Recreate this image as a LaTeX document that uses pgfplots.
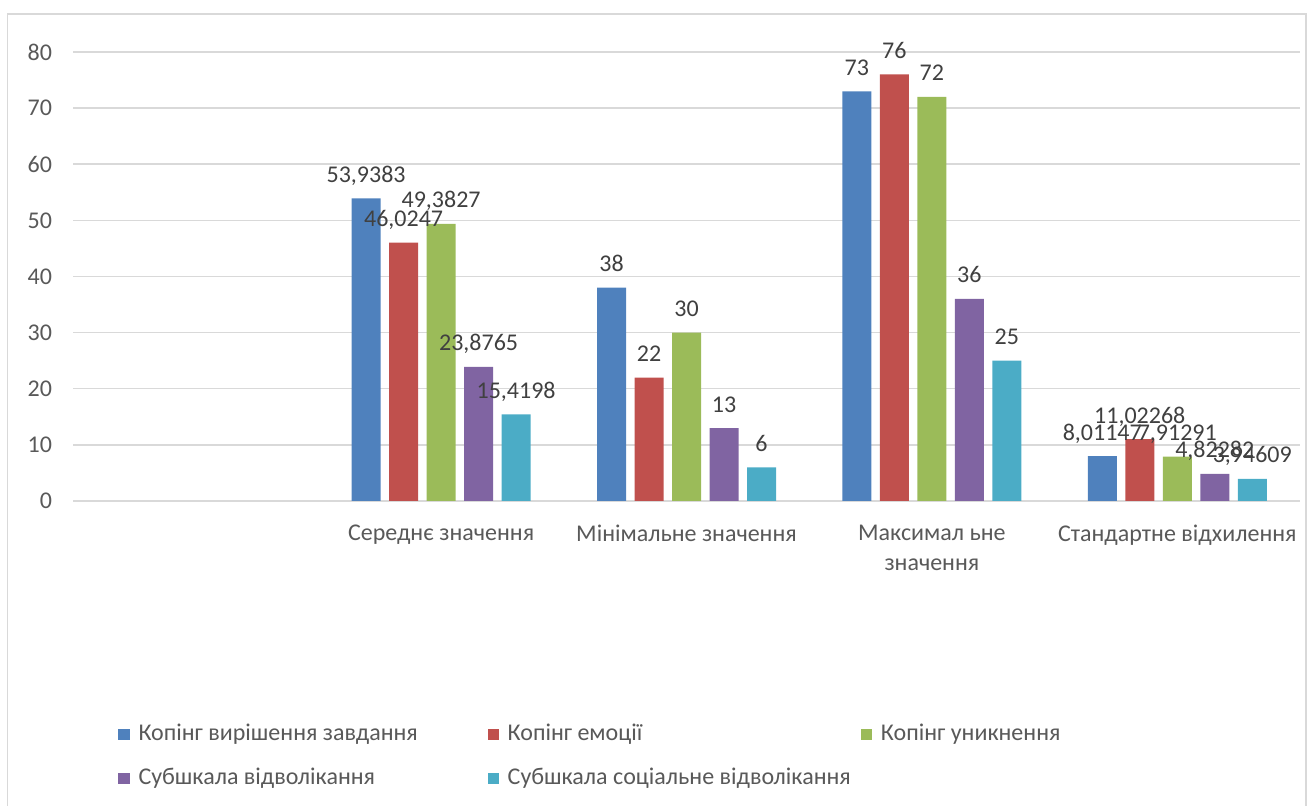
\documentclass[border=0pt]{standalone}
\usepackage{pgfplots}
\pgfplotsset{compat=1.18}
\usepackage{pgfplotstable}
\usepackage{fontspec}
\setmainfont{Carlito}
\definecolor{cA}{HTML}{4F81BD}
\definecolor{cB}{HTML}{C0504D}
\definecolor{cC}{HTML}{9BBB59}
\definecolor{cD}{HTML}{8064A2}
\definecolor{cE}{HTML}{4BACC6}
\definecolor{gridc}{HTML}{D9D9D9}
\definecolor{tickc}{HTML}{595959}
\definecolor{labc}{HTML}{404040}

\pgfplotstableread{
x y lbl
1 53.9383 53,9383
2 38 38
3 73 73
4 8.01147 8,01147
}\tA
\pgfplotstableread{
x y lbl
1 46.0247 46,0247
2 22 22
3 76 76
4 11.02268 11,02268
}\tB
\pgfplotstableread{
x y lbl
1 49.3827 49,3827
2 30 30
3 72 72
4 7.91291 7,91291
}\tC
\pgfplotstableread{
x y lbl
1 23.8765 23,8765
2 13 13
3 36 36
4 4.82282 4,82282
}\tD
\pgfplotstableread{
x y lbl
1 15.4198 15,4198
2 6 6
3 25 25
4 3.94609 3,94609
}\tE

\begin{document}
\begin{tikzpicture}
\useasboundingbox (0,0) rectangle (655.5pt,403pt);
\draw[gridc, line width=0.75pt] (3.75pt,-5pt) rectangle (653pt,396pt);
\begin{axis}[
  at={(36.5pt,152.5pt)}, anchor=south west,
  scale only axis, width=613.5pt, height=224.5pt,
  xmin=-0.5, xmax=4.5, ymin=0, ymax=80,
  ytick={0,10,...,80},
  xtick={1,2,3,4},
  xticklabels={Середнє значення, Мінімальне значення, {Максимал ьне\\значення}, Стандартне відхилення},
  ybar=4.25pt, bar width=14.5pt,
  ymajorgrids, grid style={gridc, line width=0.75pt},
  axis line style={draw=none},
  major tick length=0pt, tick style={draw=none},
  clip=false,
  /pgf/number format/assume math mode=true,
  ticklabel style={font=\fontsize{12}{15}\selectfont, text=tickc},
  yticklabel style={xshift=-7pt},
  xticklabel style={align=center, anchor=north, inner sep=0pt, yshift=-12pt},
  nodes near coords,
  point meta=explicit symbolic,
  nodes near coords style={font=\fontsize{12}{14}\selectfont, text=labc, anchor=base, yshift=8pt, inner sep=0pt},
  legend columns=3,
  legend style={at={(axis description cs:0.0366,-0.492)}, anchor=north west, draw=none, inner sep=0pt,
    font=\fontsize{12}{14}\selectfont, text=tickc, row sep=10pt,
    nodes={align=left, anchor=west, inner xsep=4.5pt, inner ysep=0pt, text height=9pt, text depth=3pt}},
  legend image code/.code={\fill[#1] (0pt,-2.8pt) rectangle (5.6pt,2.8pt);},
]
\addplot[fill=cA, draw=none] table[x=x, y=y, meta=lbl] {\tA};
\addplot[fill=cB, draw=none] table[x=x, y=y, meta=lbl] {\tB};
\addplot[fill=cC, draw=none] table[x=x, y=y, meta=lbl] {\tC};
\addplot[fill=cD, draw=none] table[x=x, y=y, meta=lbl] {\tD};
\addplot[fill=cE, draw=none] table[x=x, y=y, meta=lbl] {\tE};
\legend{\makebox[170pt][l]{Копінг вирішення завдання}, \makebox[172pt][l]{Копінг емоції}, Копінг уникнення, \makebox[170pt][l]{Субшкала відволікання}, \makebox[172pt][l]{Субшкала соціальне відволікання}}
\end{axis}
\end{tikzpicture}
\end{document}
